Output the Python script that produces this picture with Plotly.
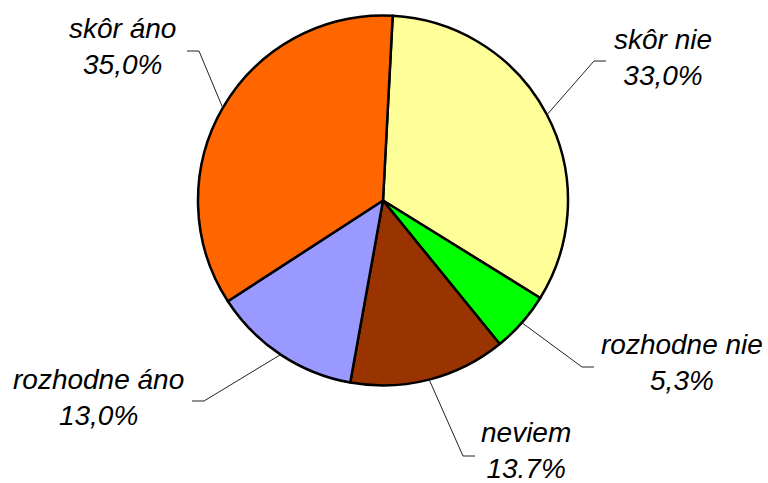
import math
import plotly.graph_objects as go

# ---------------- DATA ----------------
labels = ["skôr nie", "rozhodne nie", "neviem", "rozhodne áno", "skôr áno"]
values = [33.0, 5.3, 13.7, 13.0, 35.0]
pct_text = ["33,0%", "5,3%", "13.7%", "13,0%", "35,0%"]
colors = ["#FFFF99", "#00FF00", "#993300", "#9999FF", "#FF6600"]

# ---------------- LAYOUT (pixels) ----------------
W, H = 768, 483
cx, cy, r = 383, 200.5, 185
rotation = 3

# label block centres and leader elbows, one per slice (same order as labels)
label_xy = [(663, 57), (682, 362), (526, 450), (98, 397), (122, 46)]
elbow_xy = [(594, 61), (582, 367), (463, 456), (204, 401), (199, 51)]
seg = 12


def px(x, y):
    return x / W, 1 - y / H


fig = go.Figure(go.Pie(
    labels=labels, values=values,
    sort=False, direction="clockwise", rotation=rotation,
    marker=dict(colors=colors, line=dict(color="black", width=2.5)),
    textinfo="none", hoverinfo="label+percent",
    domain=dict(x=[(cx - r) / W, (cx + r) / W],
                y=[1 - (cy + r) / H, 1 - (cy - r) / H]),
))

# ---------------- LABELS + LEADER LINES ----------------
total = sum(values)
acc = 0
shapes, annotations = [], []
for i, v in enumerate(values):
    mid = math.radians(rotation + (acc + v / 2) / total * 360)
    acc += v
    sx, sy = cx + r * math.sin(mid), cy - r * math.cos(mid)
    ex, ey = elbow_xy[i]
    hx = ex + seg if ex > cx else ex - seg
    p0, p1, p2 = px(sx, sy), px(ex, ey), px(hx, ey)
    shapes.append(dict(
        type="path", xref="paper", yref="paper",
        path=f"M {p0[0]},{p0[1]} L {p1[0]},{p1[1]} L {p2[0]},{p2[1]}",
        line=dict(color="#222222", width=1),
    ))
    lx, ly = px(*label_xy[i])
    annotations.append(dict(
        x=lx, y=ly, xref="paper", yref="paper",
        text=f"<i>{labels[i]}</i><br><i>{pct_text[i]}</i>",
        showarrow=False, align="center", xanchor="center", yanchor="middle",
        font=dict(family="Liberation Sans, Arial, sans-serif", size=28, color="black"),
    ))

fig.update_layout(
    width=W, height=H,
    margin=dict(l=0, r=0, t=0, b=0),
    paper_bgcolor="white", plot_bgcolor="white",
    showlegend=False,
    shapes=shapes, annotations=annotations,
)

fig.write_html("out.html", config={"displayModeBar": False})

# drop the browser's default body margin so the figure sits at the top-left
with open("out.html", encoding="utf-8") as f:
    html = f.read()
html = html.replace("<body>", '<body style="margin:0">', 1)
with open("out.html", "w", encoding="utf-8") as f:
    f.write(html)
